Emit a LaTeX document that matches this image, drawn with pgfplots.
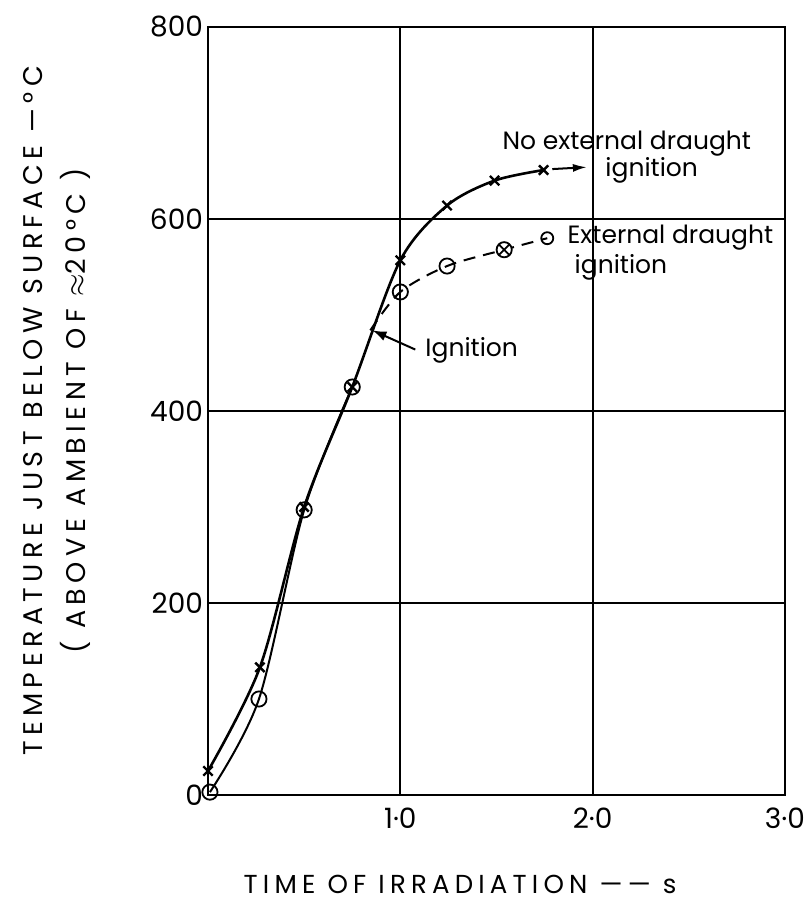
\documentclass[border=0pt]{standalone}
\usepackage{fontspec}
\setmainfont{Poppins}
\newfontfamily\lblfont[LetterSpace=20]{Poppins}
\usepackage{pgfplots}
\pgfplotsset{compat=1.18}
\usetikzlibrary{arrows.meta}

\begin{document}
\begin{tikzpicture}
\useasboundingbox (-104pt,-53pt) rectangle (299.5pt,397.5pt);
\begin{axis}[
    width=288.5pt, height=384pt, scale only axis,
    xmin=0, xmax=3, ymin=0, ymax=800,
    xtick={1,2,3}, xticklabels={1·0,2·0,3·0},
    ytick={0,200,400,600,800}, yticklabels={0,200,400,600,800},
    major tick length=0pt,
    grid=major, grid style={black, line width=0.9pt},
    axis line style={line width=1.3pt},
    tick label style={font=\fontsize{14}{16}\selectfont},
    xticklabel style={yshift=-3pt},
    yticklabel style={xshift=1pt},
    xlabel={TIME OF IRRADIATION —— s},
    xlabel style={font=\lblfont\fontsize{13}{15}\selectfont, at={(axis description cs:0.437,-0.117)}, anchor=center},
    ylabel={TEMPERATURE JUST BELOW SURFACE —°C\\( ABOVE AMBIENT OF $\approx$20°C )},
    ylabel style={font=\lblfont\fontsize{13.5}{21.5}\selectfont, align=center, at={(axis description cs:-0.2625,0.5)}, anchor=center},
    clip=false,
]
% external draught: solid up to 0.75, then runs on the other curve to ignition, dashed after
\addplot[smooth, line width=1pt] coordinates {
    (0.01,3) (0.265,100) (0.5,297) (0.75,425)
};
\addplot[smooth, line width=1pt, dash pattern=on 6pt off 4pt] coordinates {
    (0.844,484) (1.0,524) (1.243,551) (1.54,568) (1.764,580)
};
\addplot[only marks, mark=o, mark size=3.8pt, mark options={fill=white, line width=0.9pt}] coordinates {
    (0.01,3) (0.265,100) (0.5,297) (0.75,425) (1.0,524) (1.243,551)
};
\addplot[only marks, mark=o, mark size=3pt, mark options={fill=white, line width=0.9pt}] coordinates {
    (1.764,580)
};
\addplot[only marks, mark=otimes*, mark size=3.8pt, mark options={fill=white, line width=0.9pt}] coordinates {
    (1.54,568)
};
% no external draught
\addplot[smooth, line width=1.3pt, mark=x, mark size=3.3pt, mark options={solid, line width=1.2pt}] coordinates {
    (0,25) (0.27,133) (0.5,300) (0.75,425) (1.0,557) (1.243,614) (1.49,640) (1.745,651)
};
\addplot[-{Latex[length=7pt,width=4pt]}, line width=1pt] coordinates {(1.79,652) (1.97,654)};
\addplot[-{Latex[length=7pt,width=5pt]}, line width=1pt] coordinates {(1.078,464) (0.855,484)};

\node[anchor=west, font=\fontsize{12.5}{14}\selectfont] at (axis cs:1.094,463) {Ignition};
\node[anchor=west, font=\fontsize{12.5}{14}\selectfont] at (axis cs:1.495,679) {No external draught};
\node[anchor=west, font=\fontsize{12.5}{14}\selectfont] at (axis cs:2.03,651) {ignition};
\node[anchor=west, font=\fontsize{12.5}{14}\selectfont] at (axis cs:1.833,581) {External draught};
\node[anchor=west, font=\fontsize{12.5}{14}\selectfont] at (axis cs:1.87,550) {ignition};
\end{axis}
\end{tikzpicture}
\end{document}
